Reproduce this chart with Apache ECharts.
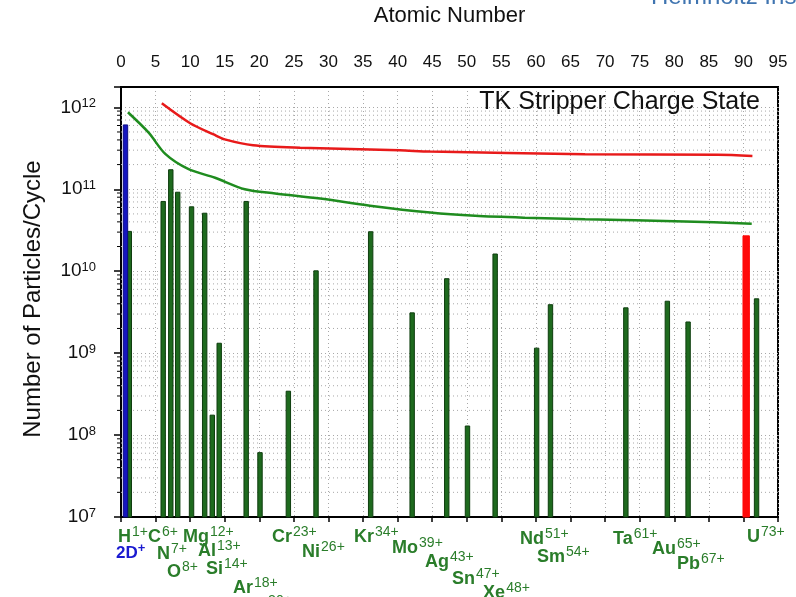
<!DOCTYPE html>
<html>
<head>
<meta charset="utf-8">
<script src="https://cdn.jsdelivr.net/npm/echarts@6/dist/echarts.min.js"></script>
<style>
html, body { margin: 0; padding: 0; background: #fff; }
#main { width: 796px; height: 597px; }
</style>
</head>
<body>
<div id="main"></div>
<script>
// atomic-number position of each bar, and particles per cycle
var greenBarZ = [1.2, 6.1, 7.2, 8.2, 10.2, 12.1, 13.2, 14.2, 18.1, 20.1, 24.2, 28.2, 36.1, 42.1, 47.1, 50.1, 54.1, 60.1, 62.1, 73.0, 79.0, 82.0, 91.9];
var greenBarValues = [3.06e10, 7.1e10, 1.73e11, 9.2e10, 6.1e10, 5.1e10, 1.75e8, 1.32e9, 7.1e10, 6.1e7, 3.43e8, 1.01e10, 3.03e10, 3.1e9, 8.1e9, 1.29e8, 1.62e10, 1.15e9, 3.9e9, 3.57e9, 4.3e9, 2.4e9, 4.6e9];
var deuteronZ = [0.65];
var deuteronValues = [6.1e11];
var tkUraniumZ = [90.4];
var tkUraniumValues = [2.7e10];

// limit curves
var redLineZ = [5.9, 10.0, 13.4, 15.0, 19.1, 25.9, 40.3, 44.7, 67.1, 86.3, 91.3];
var redLineValues = [1.12e12, 6.4e11, 4.66e11, 4.06e11, 3.44e11, 3.21e11, 2.99e11, 2.88e11, 2.68e11, 2.63e11, 2.55e11];
var greenLineZ = [1.0, 4.0, 6.4, 9.7, 13.6, 17.9, 22.3, 28.8, 36.0, 44.7, 51.2, 58.4, 67.1, 81.5, 91.2];
var greenLineValues = [8.7e11, 4.9e11, 2.7e11, 1.77e11, 1.38e11, 1.0e11, 8.9e10, 7.7e10, 6.3e10, 5.2e10, 4.75e10, 4.5e10, 4.3e10, 4.05e10, 3.8e10];

// ion labels under the axis
var labelText = ['H', '2D', 'C', 'N', 'O', 'Mg', 'Al', 'Si', 'Ar', 'Ca', 'Cr', 'Ni', 'Kr', 'Mo', 'Ag', 'Sn', 'Xe', 'Nd', 'Sm', 'Ta', 'Au', 'Pb', 'U'];
var labelCharge = ['1+', '+', '6+', '7+', '8+', '12+', '13+', '14+', '18+', '20+', '23+', '26+', '34+', '39+', '43+', '47+', '48+', '51+', '54+', '61+', '65+', '67+', '73+'];
// layout: left edge of each label (in atomic-number units) and pixel drop below the axis
var labelAt = [-0.43, -0.72, 3.9, 5.2, 6.65, 8.96, 11.14, 12.29, 16.2, 17.8, 21.83, 26.18, 33.69, 39.2, 43.95, 47.86, 52.36, 57.69, 60.15, 71.14, 76.77, 80.38, 90.51];
var labelDy = [20, 36, 20, 37, 55, 20, 34, 52, 71, 89, 20, 35, 20, 31, 45, 62, 76, 22, 40, 22, 32, 47, 20];

var yMin = 1e7, yMax = 1.77e12;
var xMin = 0, xMax = 95;
var minorValues = [];
for (var e = 7; e < 12; e++) {
    for (var k = 2; k <= 9; k++) {
        minorValues.push([0, k * Math.pow(10, e)]);
    }
}

var font = 'Liberation Sans, Arial, sans-serif';
var chartDom = document.getElementById('main');
var myChart = echarts.init(chartDom);

function pairs(xs, ys) {
    return xs.map(function (x, i) { return [x, ys[i]]; });
}

function barRenderer(width, fill, stroke) {
    return function (params, api) {
        var top = api.coord([api.value(0), api.value(1)]);
        var base = api.coord([api.value(0), yMin]);
        return {
            type: 'rect',
            shape: { x: top[0] - width / 2, y: top[1], width: width, height: base[1] - top[1] },
            style: { fill: fill, stroke: stroke, lineWidth: 1 }
        };
    };
}

function renderMinor(params, api) {
    var v = api.value(1);
    var a = api.coord([xMin, v]);
    var b = api.coord([xMax, v]);
    return {
        type: 'group',
        children: [
            { type: 'line', shape: { x1: a[0], y1: a[1], x2: b[0], y2: b[1] }, style: { stroke: '#a8a8a8', lineWidth: 1, lineDash: [1, 3] } },
            { type: 'line', shape: { x1: a[0] - 4, y1: a[1], x2: a[0], y2: a[1] }, style: { stroke: '#000', lineWidth: 1 } }
        ]
    };
}

function renderLabel(params, api) {
    var i = params.dataIndex;
    var p = api.coord([labelAt[i], yMin]);
    var blue = labelText[i] === '2D';
    return {
        type: 'text',
        x: p[0],
        y: p[1] + labelDy[i],
        style: {
            text: (blue ? '{bb|' : '{b|') + labelText[i] + '}' + (blue ? '{sb|' : '{s|') + labelCharge[i] + '}',
            align: 'left',
            verticalAlign: 'middle',
            rich: {
                b: { fontFamily: font, fontSize: 18, fontWeight: 'bold', fill: '#2a7d2a', lineHeight: 20 },
                s: { fontFamily: font, fontSize: 14, fill: '#2a7d2a', lineHeight: 14, padding: [0, 0, 10, 1] },
                bb: { fontFamily: font, fontSize: 17, fontWeight: 'bold', fill: '#1a1ad0', lineHeight: 20 },
                sb: { fontFamily: font, fontSize: 13, fontWeight: 'bold', fill: '#1a1ad0', lineHeight: 13, padding: [0, 0, 9, 0] }
            }
        }
    };
}

var option = {
    backgroundColor: '#fff',
    animation: false,
    textStyle: { fontFamily: font },
    title: {
        text: 'TK Stripper Charge State',
        right: 36,
        top: 90,
        padding: 0,
        textStyle: { fontFamily: font, fontSize: 25, fontWeight: 'normal', color: '#111' }
    },
    graphic: [{
        type: 'text',
        left: 651,
        top: -15,
        style: { text: 'Helmholtz Institut', fontFamily: font, fontSize: 24, fill: '#3f74b0' }
    }],
    grid: {
        left: 121,
        right: 18,
        top: 80,
        bottom: 80,
        show: true,
        borderColor: '#000',
        borderWidth: 2
    },
    xAxis: [{
        type: 'value',
        position: 'top',
        min: xMin,
        max: xMax,
        interval: 5,
        name: 'Atomic Number',
        nameLocation: 'middle',
        nameGap: 60,
        nameTextStyle: { fontFamily: font, fontSize: 22, color: '#111' },
        axisLine: { lineStyle: { color: '#000', width: 2 } },
        axisTick: { show: false },
        axisLabel: { fontFamily: font, fontSize: 17, color: '#111', margin: 16 },
        splitLine: { show: true, lineStyle: { color: '#a8a8a8', width: 1, type: [1, 3] } }
    }, {
        type: 'value',
        position: 'bottom',
        min: xMin,
        max: xMax,
        interval: 5,
        axisLine: { lineStyle: { color: '#000', width: 2 } },
        axisTick: { show: true, inside: false, length: 5, lineStyle: { color: '#000', width: 1.5 } },
        axisLabel: { show: false },
        splitLine: { show: false }
    }],
    yAxis: {
        type: 'log',
        logBase: 10,
        min: yMin,
        max: yMax,
        name: 'Number of Particles/Cycle',
        nameLocation: 'middle',
        nameRotate: 90,
        nameGap: 76,
        nameTextStyle: { fontFamily: font, fontSize: 24, color: '#111', padding: [0, 0, 0, 6] },
        axisLine: { show: true, lineStyle: { color: '#000', width: 2 } },
        axisTick: { show: true, length: 7, lineStyle: { color: '#000', width: 1.5 } },
        axisLabel: {
            margin: 25,
            formatter: function (v) {
                var n = Math.round(Math.log10(v));
                if (Math.abs(Math.log10(v) - n) > 1e-6) {
                    return '';
                }
                return '{b|10}{s|' + n + '}';
            },
            rich: {
                b: { fontFamily: font, fontSize: 19, color: '#111', lineHeight: 20 },
                s: { fontFamily: font, fontSize: 13, color: '#111', lineHeight: 13, padding: [0, 0, 8, 0] }
            }
        },
        splitLine: { show: true, lineStyle: { color: '#a8a8a8', width: 1, type: [1, 3] } }
    },
    series: [{
        type: 'custom',
        name: 'minor grid',
        xAxisIndex: 1,
        clip: false,
        silent: true,
        renderItem: renderMinor,
        data: minorValues,
        z: 1
    }, {
        type: 'line',
        name: 'TK stripper limit',
        xAxisIndex: 1,
        data: pairs(redLineZ, redLineValues),
        showSymbol: false,
        smooth: 0.3,
        lineStyle: { color: '#e81a1a', width: 2.5 },
        z: 3
    }, {
        type: 'line',
        name: 'limit',
        xAxisIndex: 1,
        data: pairs(greenLineZ, greenLineValues),
        showSymbol: false,
        smooth: 0.3,
        lineStyle: { color: '#1f8c1f', width: 2.5 },
        z: 3
    }, {
        type: 'custom',
        name: 'ions',
        xAxisIndex: 1,
        renderItem: barRenderer(4.4, '#1e6a1e', '#0e3d0e'),
        data: pairs(greenBarZ, greenBarValues),
        z: 4
    }, {
        type: 'custom',
        name: 'deuterons',
        xAxisIndex: 1,
        renderItem: barRenderer(4.4, '#1515c0', '#0a0a80'),
        data: pairs(deuteronZ, deuteronValues),
        z: 4
    }, {
        type: 'custom',
        name: 'TK stripper U',
        xAxisIndex: 1,
        renderItem: barRenderer(6.4, '#ff0a0a', '#ff0a0a'),
        data: pairs(tkUraniumZ, tkUraniumValues),
        z: 4
    }, {
        type: 'custom',
        name: 'labels',
        xAxisIndex: 1,
        clip: false,
        silent: true,
        renderItem: renderLabel,
        data: labelAt.map(function (z, i) { return [z, i]; }),
        z: 5
    }]
};

myChart.setOption(option);
</script>
</body>
</html>
